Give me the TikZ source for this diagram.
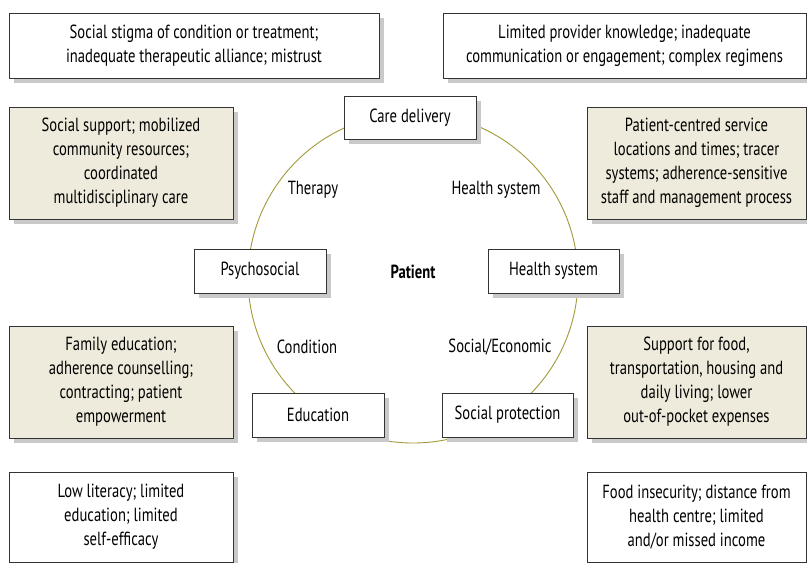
\documentclass[tikz,border=0pt]{standalone}
\usepackage{fontspec}
\setmainfont{PT Sans}[FakeStretch=0.77]
\usetikzlibrary{shadows}
\definecolor{beige}{HTML}{EEEBDC}
\definecolor{olive}{HTML}{A39A3A}
\definecolor{shadowgray}{HTML}{C9C9C9}
\definecolor{edge}{HTML}{333333}
\tikzset{
  box/.style={draw=edge, line width=0.9pt, fill=white, align=center, inner sep=0pt,
    font=\fontsize{19}{24}\selectfont,
    general shadow={shadow xshift=5pt, shadow yshift=-5pt, fill=shadowgray}},
  actbox/.style={box, fill=beige},
  lbl/.style={font=\fontsize{19}{24}\selectfont, inner sep=0pt},
  ring/.style={draw=olive, line width=0.9pt}
}
\begin{document}
\begin{tikzpicture}[x=1pt,y=-1pt]
\useasboundingbox (0,0) rectangle (807,563);
\fill[white] (0,0) rectangle (807,563);
\coordinate (ctr) at (413,278);
\draw[ring] (ctr) circle[radius=165];
\node[lbl] (therapy) at (313,190) {Therapy};
\node[lbl] (hsys) at (496,190) {Health system};
\node[lbl, font=\fontsize{19}{24}\selectfont\bfseries] (patient) at (413,272) {Patient};
\node[lbl] (cond) at (307,347) {Condition};
\node[lbl] (socec) at (500,347) {Social/Economic};
% barrier boxes
\node[box, minimum width=370pt, minimum height=65pt] (b1) at (194,45.5) {Social stigma of condition or treatment;\\inadequate therapeutic alliance; mistrust};
\node[box, minimum width=363pt, minimum height=65pt] (b2) at (624.5,45.5) {Limited provider knowledge; inadequate\\communication or engagement; complex regimens};
\node[box, minimum width=224pt, minimum height=90pt] (b3) at (121,517) {Low literacy; limited\\education; limited\\self-efficacy};
\node[box, minimum width=219pt, minimum height=90pt] (b4) at (696.5,517) {Food insecurity; distance from\\health centre; limited\\and/or missed income};
% intervention boxes
\node[actbox, minimum width=224pt, minimum height=112pt] (a1) at (121,163) {Social support; mobilized\\community resources;\\coordinated\\multidisciplinary care};
\node[actbox, minimum width=219pt, minimum height=112pt] (a2) at (696.5,163) {Patient-centred service\\locations and times; tracer\\systems; adherence-sensitive\\staff and management process};
\node[actbox, minimum width=224pt, minimum height=112pt] (a3) at (121,382) {Family education;\\adherence counselling;\\contracting; patient\\empowerment};
\node[actbox, minimum width=219pt, minimum height=112pt] (a4) at (696.5,382) {Support for food,\\transportation, housing and\\daily living; lower\\out-of-pocket expenses};
% ring nodes
\node[box, minimum width=132pt, minimum height=43pt] (care) at (410,117.5) {Care delivery};
\node[box, minimum width=132pt, minimum height=44pt] (psy) at (260,271) {Psychosocial};
\node[box, minimum width=131pt, minimum height=44pt] (hs) at (553.5,271) {Health system};
\node[box, minimum width=132pt, minimum height=44pt] (edu) at (318,415) {Education};
\node[box, minimum width=131pt, minimum height=44pt] (sp) at (507.5,415) {Social protection};
\end{tikzpicture}
\end{document}
